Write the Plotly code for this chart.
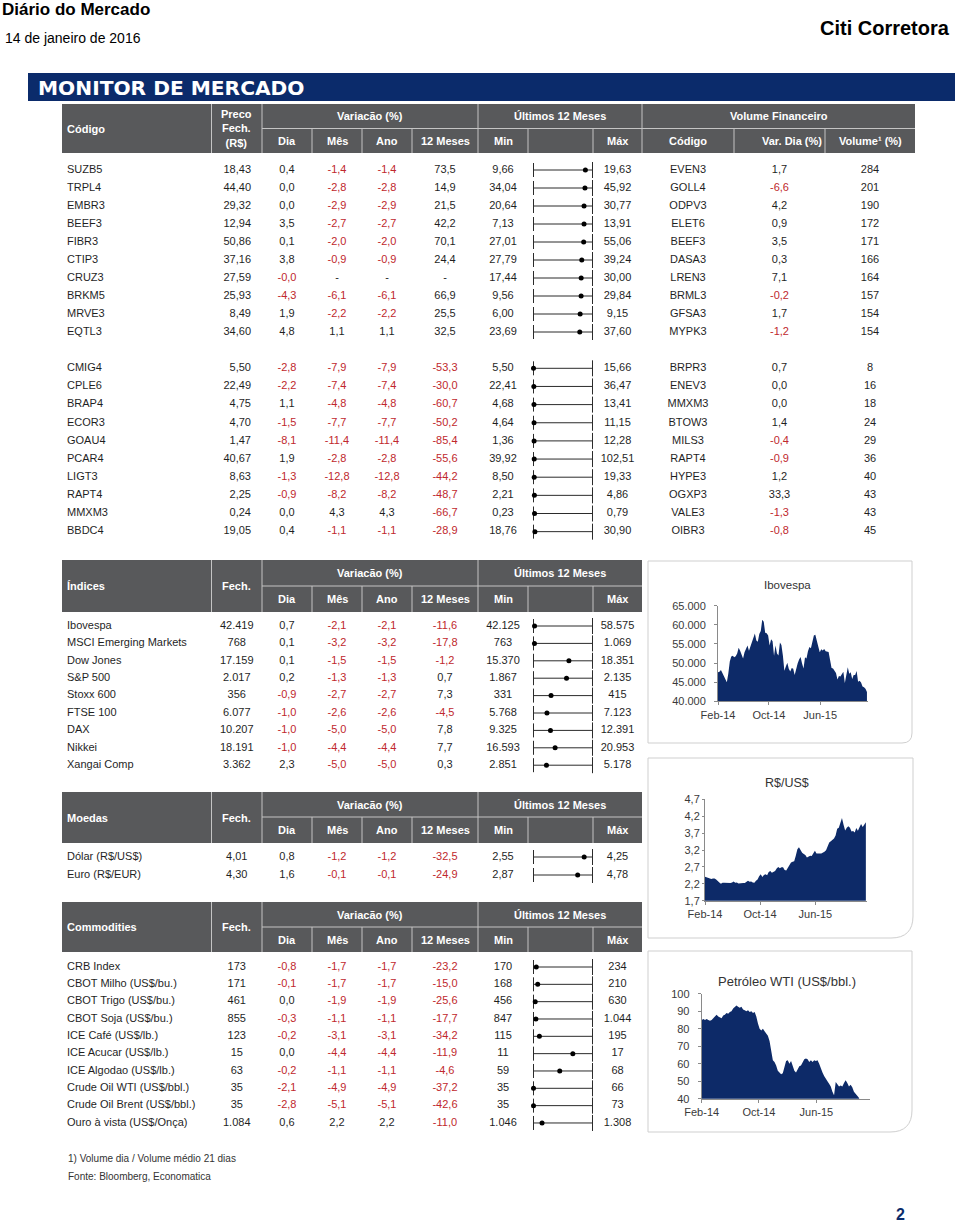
import math

import pandas as pd
import plotly.graph_objects as go

PAGE_W, PAGE_H = 960, 1222

NAVY = "#0b2b6b"
FILL = "#0d2a68"
HEADER_GRAY = "#58595b"
HEADER_RULE = "#c4c4c4"
INK = "#1f1f1f"
RED = "#c0282d"
RANGE_INK = "#2b2b2b"
BOX_LINE = "#cfcfcf"
AXIS_LINE = "#8a8a8a"
TICK_INK = "#3a3a3a"

SANS = "Liberation Sans, Arial, sans-serif"
NARROW = "Liberation Sans Narrow, Arial Narrow, Liberation Sans, Arial, sans-serif"

# ---- ações: maiores volumes relativos ----
TOPO_CODIGO = ["SUZB5", "TRPL4", "EMBR3", "BEEF3", "FIBR3", "CTIP3", "CRUZ3", "BRKM5", "MRVE3", "EQTL3"]
TOPO_PRECO = [18.43, 44.40, 29.32, 12.94, 50.86, 37.16, 27.59, 25.93, 8.49, 34.60]
TOPO_DIA = [0.4, 0.0, 0.0, 3.5, 0.1, 3.8, -0.0, -4.3, 1.9, 4.8]
TOPO_MES = [-1.4, -2.8, -2.9, -2.7, -2.0, -0.9, None, -6.1, -2.2, 1.1]
TOPO_ANO = [-1.4, -2.8, -2.9, -2.7, -2.0, -0.9, None, -6.1, -2.2, 1.1]
TOPO_12M = [73.5, 14.9, 21.5, 42.2, 70.1, 24.4, None, 66.9, 25.5, 32.5]
TOPO_MIN = [9.66, 34.04, 20.64, 7.13, 27.01, 27.79, 17.44, 9.56, 6.00, 23.69]
TOPO_MAX = [19.63, 45.92, 30.77, 13.91, 55.06, 39.24, 30.00, 29.84, 9.15, 37.60]
TOPO_VOL_CODIGO = ["EVEN3", "GOLL4", "ODPV3", "ELET6", "BEEF3", "DASA3", "LREN3", "BRML3", "GFSA3", "MYPK3"]
TOPO_VOL_VAR = [1.7, -6.6, 4.2, 0.9, 3.5, 0.3, 7.1, -0.2, 1.7, -1.2]
TOPO_VOL = [284, 201, 190, 172, 171, 166, 164, 157, 154, 154]

# ---- ações: menores volumes relativos ----
BASE_CODIGO = ["CMIG4", "CPLE6", "BRAP4", "ECOR3", "GOAU4", "PCAR4", "LIGT3", "RAPT4", "MMXM3", "BBDC4"]
BASE_PRECO = [5.50, 22.49, 4.75, 4.70, 1.47, 40.67, 8.63, 2.25, 0.24, 19.05]
BASE_DIA = [-2.8, -2.2, 1.1, -1.5, -8.1, 1.9, -1.3, -0.9, 0.0, 0.4]
BASE_MES = [-7.9, -7.4, -4.8, -7.7, -11.4, -2.8, -12.8, -8.2, 4.3, -1.1]
BASE_ANO = [-7.9, -7.4, -4.8, -7.7, -11.4, -2.8, -12.8, -8.2, 4.3, -1.1]
BASE_12M = [-53.3, -30.0, -60.7, -50.2, -85.4, -55.6, -44.2, -48.7, -66.7, -28.9]
BASE_MIN = [5.50, 22.41, 4.68, 4.64, 1.36, 39.92, 8.50, 2.21, 0.23, 18.76]
BASE_MAX = [15.66, 36.47, 13.41, 11.15, 12.28, 102.51, 19.33, 4.86, 0.79, 30.90]
BASE_VOL_CODIGO = ["BRPR3", "ENEV3", "MMXM3", "BTOW3", "MILS3", "RAPT4", "HYPE3", "OGXP3", "VALE3", "OIBR3"]
BASE_VOL_VAR = [0.7, 0.0, 0.0, 1.4, -0.4, -0.9, 1.2, 33.3, -1.3, -0.8]
BASE_VOL = [8, 16, 18, 24, 29, 36, 40, 43, 43, 45]

# ---- índices ----
IDX_NOME = ["Ibovespa", "MSCI Emerging Markets", "Dow Jones", "S&P 500", "Stoxx 600",
            "FTSE 100", "DAX", "Nikkei", "Xangai Comp"]
IDX_FECH = [42419, 768, 17159, 2017, 356, 6077, 10207, 18191, 3362]
IDX_DIA = [0.7, 0.1, 0.1, 0.2, -0.9, -1.0, -1.0, -1.0, 2.3]
IDX_MES = [-2.1, -3.2, -1.5, -1.3, -2.7, -2.6, -5.0, -4.4, -5.0]
IDX_ANO = [-2.1, -3.2, -1.5, -1.3, -2.7, -2.6, -5.0, -4.4, -5.0]
IDX_12M = [-11.6, -17.8, -1.2, 0.7, 7.3, -4.5, 7.8, 7.7, 0.3]
IDX_MIN = [42125, 763, 15370, 1867, 331, 5768, 9325, 16593, 2851]
IDX_MAX = [58575, 1069, 18351, 2135, 415, 7123, 12391, 20953, 5178]

# ---- moedas ----
MOEDA_NOME = ["Dólar (R$/US$)", "Euro (R$/EUR)"]
MOEDA_FECH = [4.01, 4.30]
MOEDA_DIA = [0.8, 1.6]
MOEDA_MES = [-1.2, -0.1]
MOEDA_ANO = [-1.2, -0.1]
MOEDA_12M = [-32.5, -24.9]
MOEDA_MIN = [2.55, 2.87]
MOEDA_MAX = [4.25, 4.78]

# ---- commodities ----
COMM_NOME = ["CRB Index", "CBOT Milho (US$/bu.)", "CBOT Trigo (US$/bu.)", "CBOT Soja (US$/bu.)",
             "ICE Café (US$/lb.)", "ICE Acucar (US$/lb.)", "ICE Algodao (US$/lb.)",
             "Crude Oil WTI (US$/bbl.)", "Crude Oil Brent (US$/bbl.)", "Ouro à vista (US$/Onça)"]
COMM_FECH = [173, 171, 461, 855, 123, 15, 63, 35, 35, 1084]
COMM_DIA = [-0.8, -0.1, 0.0, -0.3, -0.2, 0.0, -0.2, -2.1, -2.8, 0.6]
COMM_MES = [-1.7, -1.7, -1.9, -1.1, -3.1, -4.4, -1.1, -4.9, -5.1, 2.2]
COMM_ANO = [-1.7, -1.7, -1.9, -1.1, -3.1, -4.4, -1.1, -4.9, -5.1, 2.2]
COMM_12M = [-23.2, -15.0, -25.6, -17.7, -34.2, -11.9, -4.6, -37.2, -42.6, -11.0]
COMM_MIN = [170, 168, 456, 847, 115, 11, 59, 35, 35, 1046]
COMM_MAX = [234, 210, 630, 1044, 195, 17, 68, 66, 73, 1308]

# ---- séries semanais (a partir de fev/2014) ----
SEMANAS = pd.date_range("2014-02-01", periods=102, freq="7D")
FIM_SERIE = "2016-01-14"
IBOV = [
    47600, 47700, 48200, 47400, 46600, 46200, 45000, 47300, 50400, 51700,
    51900, 51500, 51800, 52500, 54000, 53200, 52300, 51200, 52800, 53900,
    54600, 53200, 54400, 55500, 57000, 57700, 55900, 55600, 57600, 58400,
    61300, 60800, 57900, 57800, 57200, 54600, 56200, 55700, 51900, 54600,
    52500, 52000, 55400, 54700, 52000, 48000, 49100, 50100, 48500, 47800,
    48700, 48500, 46900, 48800, 49900, 50900, 51600, 49900, 48600, 51500,
    51200, 53100, 54200, 53900, 55500, 57200, 57400, 56100, 54300, 52800,
    53600, 53300, 53700, 53100, 53000, 52900, 50800, 48700, 48600, 48100,
    47400, 45700, 46600, 46500, 47300, 47700, 44800, 47000, 48900, 47200,
    47600, 45800, 46900, 46900, 47900, 45100, 45400, 44900, 43900, 43700,
    43300, 42400,
]
DOLAR = [
    2.41, 2.39, 2.37, 2.35, 2.34, 2.36, 2.36, 2.33, 2.27, 2.24,
    2.20, 2.23, 2.23, 2.23, 2.21, 2.22, 2.22, 2.24, 2.27, 2.23,
    2.24, 2.21, 2.22, 2.21, 2.22, 2.22, 2.27, 2.29, 2.26, 2.27,
    2.24, 2.23, 2.29, 2.33, 2.42, 2.48, 2.40, 2.46, 2.48, 2.45,
    2.55, 2.58, 2.53, 2.56, 2.58, 2.65, 2.70, 2.66, 2.69, 2.69,
    2.61, 2.59, 2.68, 2.77, 2.83, 2.85, 2.87, 3.03, 3.22, 3.28,
    3.18, 3.12, 3.08, 3.05, 2.98, 3.01, 3.03, 3.02, 3.12, 3.18,
    3.10, 3.11, 3.10, 3.10, 3.12, 3.15, 3.19, 3.32, 3.42, 3.46,
    3.49, 3.54, 3.63, 3.83, 3.86, 3.99, 4.15, 3.95, 3.78, 3.86,
    3.90, 3.86, 3.75, 3.76, 3.72, 3.85, 3.77, 3.87, 3.97, 3.88,
    3.96, 4.02,
]
WTI = [
    85, 85.5, 85, 85.5, 85, 84.5, 85, 86, 87, 88,
    87, 86.5, 86, 87.5, 88, 89, 88.5, 89.5, 90, 91.5,
    92.5, 93.3, 92.5, 92, 92.5, 91, 90.5, 90, 90.5, 89.5,
    90, 89, 89.5, 87, 83, 80, 79, 80, 78.5, 77,
    76, 73, 68, 62, 61, 59, 56, 55, 54, 54.5,
    58, 61.5, 62, 60, 61.5, 58, 56, 55, 57, 58.5,
    59, 61, 62.5, 63, 62.5, 61, 62, 61, 62, 61.5,
    62, 60, 57, 55, 53, 51, 50, 48.5, 47, 44,
    42, 49.5, 48, 47, 47.5, 47, 49, 50.5, 49, 47,
    48, 46.5, 44, 43, 42, 40.5, 38, 37, 36.5, 37,
    36, 33.5,
]
X_TICKS = ["2014-02-01", "2014-10-01", "2015-06-01"]
X_LABELS = ["Feb-14", "Oct-14", "Jun-15"]
IBOV_TICKS = [40000, 45000, 50000, 55000, 60000, 65000]
DOLAR_TICKS = [1.7, 2.2, 2.7, 3.2, 3.7, 4.2, 4.7]
WTI_TICKS = [40, 50, 60, 70, 80, 90, 100]

# ---- column edges of the tables (page pixels) ----
EDGE_NAME = 62
EDGE_CLOSE = 211.5
EDGE_DIA = 262
EDGE_MES = 312
EDGE_ANO = 362
EDGE_M12 = 412
EDGE_MIN = 478
EDGE_RANGE = 528
EDGE_MAX = 593
EDGE_VCOD = 642
EDGE_VVAR = 734
EDGE_VOL = 825
EDGE_END = 915
RANGE_X0, RANGE_X1 = 533.5, 592.5


def _fmt(value, decimals):
    if value is None:
        return "-"
    text = f"{value:,.{decimals}f}"
    return text.replace(",", " ").replace(".", ",").replace(" ", ".")


def _tone(value):
    if value is None:
        return INK
    return RED if math.copysign(1.0, value) < 0 else INK


def _mid(a, b):
    return (a + b) / 2


def _label(fig, x, y, text, *, anchor="center", size=11, color="white", family=NARROW, bold=True):
    fig.add_annotation(
        x=x, y=y, xref="x", yref="y", text=f"<b>{text}</b>" if bold else text,
        showarrow=False, xanchor=anchor, yanchor="middle", borderpad=0,
        font={"family": family, "size": size, "color": color},
    )


def _column(fig, x, ys, texts, colors=INK, position="middle center"):
    fig.add_trace(
        go.Scatter(
            x=[x] * len(ys), y=ys, mode="text", text=texts, textposition=position,
            textfont={"family": SANS, "size": 11, "color": colors},
            hoverinfo="skip", showlegend=False, cliponaxis=False,
        )
    )


def _numbers(fig, x, ys, values, decimals=1):
    _column(fig, x, ys, [_fmt(v, decimals) for v in values], [_tone(v) for v in values])


def _header(fig, top, split, bottom, title, close_label, right, volume=False):
    fig.add_shape(type="rect", xref="x", yref="y", x0=EDGE_NAME, x1=right, y0=top, y1=bottom,
                  fillcolor=HEADER_GRAY, line={"width": 0}, layer="below")
    rule = {"color": HEADER_RULE, "width": 1}
    fig.add_shape(type="line", xref="x", yref="y", x0=EDGE_DIA, x1=right, y0=split, y1=split,
                  line=rule, layer="below")
    full = [EDGE_CLOSE, EDGE_DIA, EDGE_MIN] + ([EDGE_VCOD] if volume else [])
    part = [EDGE_MES, EDGE_ANO, EDGE_M12, EDGE_RANGE, EDGE_MAX] + ([EDGE_VVAR, EDGE_VOL] if volume else [])
    for x in full:
        fig.add_shape(type="line", xref="x", yref="y", x0=x, x1=x, y0=top, y1=bottom, line=rule, layer="below")
    for x in part:
        fig.add_shape(type="line", xref="x", yref="y", x0=x, x1=x, y0=split, y1=bottom, line=rule, layer="below")

    centre, upper, lower = _mid(top, bottom), _mid(top, split), _mid(split, bottom)
    _label(fig, EDGE_NAME + 4, centre, title, anchor="left")
    _label(fig, _mid(EDGE_CLOSE, EDGE_DIA), centre, close_label)
    _label(fig, _mid(EDGE_DIA, EDGE_MIN), upper, "Variacão (%)")
    _label(fig, _mid(EDGE_MIN, EDGE_VCOD), upper, "Últimos 12 Meses")
    for text, left, rt in (("Dia", EDGE_DIA, EDGE_MES), ("Mês", EDGE_MES, EDGE_ANO),
                           ("Ano", EDGE_ANO, EDGE_M12), ("12 Meses", EDGE_M12, EDGE_MIN),
                           ("Min", EDGE_MIN, EDGE_RANGE), ("Máx", EDGE_MAX, EDGE_VCOD)):
        _label(fig, _mid(left, rt), lower, text)
    if volume:
        _label(fig, _mid(EDGE_VCOD, EDGE_END), upper, "Volume Financeiro")
        _label(fig, _mid(EDGE_VCOD, EDGE_VVAR), lower, "Código")
        _label(fig, EDGE_VOL - 2, lower, "Var. Dia (%)", anchor="right")
        _label(fig, _mid(EDGE_VOL, EDGE_END), lower, "Volume¹ (%)")


def _ranges(fig, ys, close, lows, highs):
    xs, yy = [], []
    for y in ys:
        xs.extend((RANGE_X0, RANGE_X1, None, RANGE_X0, RANGE_X0, None, RANGE_X1, RANGE_X1, None))
        yy.extend((y, y, None, y - 7, y + 7, None, y - 8, y + 8, None))
    fig.add_trace(go.Scatter(x=xs, y=yy, mode="lines", line={"color": RANGE_INK, "width": 1},
                             hoverinfo="skip", showlegend=False))
    pos = [RANGE_X0 + (c - lo) / (hi - lo) * (RANGE_X1 - RANGE_X0) for c, lo, hi in zip(close, lows, highs)]
    fig.add_trace(go.Scatter(x=pos, y=ys, mode="markers", marker={"color": "black", "size": 5},
                             hoverinfo="skip", showlegend=False))


def _body(fig, ys, names, close, close_dec, dia, mes, ano, m12, lows, highs, range_dec, close_right=False):
    _column(fig, EDGE_NAME + 5, ys, names, position="middle right")
    texts = [_fmt(v, close_dec) for v in close]
    if close_right:
        _column(fig, EDGE_DIA - 11, ys, texts, position="middle left")
    else:
        _column(fig, _mid(EDGE_CLOSE, EDGE_DIA), ys, texts)
    _numbers(fig, _mid(EDGE_DIA, EDGE_MES), ys, dia)
    _numbers(fig, _mid(EDGE_MES, EDGE_ANO), ys, mes)
    _numbers(fig, _mid(EDGE_ANO, EDGE_M12), ys, ano)
    _numbers(fig, _mid(EDGE_M12, EDGE_MIN), ys, m12)
    _column(fig, _mid(EDGE_MIN, EDGE_RANGE), ys, [_fmt(v, range_dec) for v in lows])
    _column(fig, _mid(EDGE_MAX, EDGE_VCOD), ys, [_fmt(v, range_dec) for v in highs])
    _ranges(fig, ys, close, lows, highs)


def _volume(fig, ys, codes, var, vol):
    _column(fig, _mid(EDGE_VCOD, EDGE_VVAR), ys, codes)
    _numbers(fig, _mid(EDGE_VVAR, EDGE_VOL), ys, var)
    _column(fig, _mid(EDGE_VOL, EDGE_END), ys, [str(v) for v in vol])


def _box(fig, x0, y0, x1, y1, r):
    path = f"M {x0},{y0} L {x1},{y0} L {x1},{y1 - r} Q {x1},{y1} {x1 - r},{y1} L {x0},{y1} Z"
    fig.add_shape(type="path", path=path, xref="x", yref="y", line={"color": BOX_LINE, "width": 1},
                  fillcolor="white", layer="below")


def _chart(fig, idx, plot, values, y_range, y_ticks, y_labels, standoff, ticklen=3):
    x0, y0, x1, y1 = plot
    fig.add_trace(
        go.Scatter(
            x=SEMANAS, y=values, mode="lines", line={"width": 0, "color": FILL},
            fill="tozeroy", fillcolor=FILL, xaxis=f"x{idx}", yaxis=f"y{idx}",
            hoverinfo="skip", showlegend=False,
        )
    )
    axis = {
        "showline": True, "linecolor": AXIS_LINE, "linewidth": 1, "ticks": "outside",
        "ticklen": 3, "tickcolor": AXIS_LINE, "showgrid": False, "zeroline": False,
        "tickfont": {"family": SANS, "size": 11, "color": TICK_INK}, "fixedrange": True,
        "automargin": False,
    }
    fig.update_layout(**{
        f"xaxis{idx}": dict(axis, domain=[x0 / PAGE_W, x1 / PAGE_W], anchor=f"y{idx}", type="date",
                            range=[SEMANAS[0], FIM_SERIE], tickvals=X_TICKS, ticktext=X_LABELS),
        f"yaxis{idx}": dict(axis, domain=[1 - y1 / PAGE_H, 1 - y0 / PAGE_H], anchor=f"x{idx}",
                            range=y_range, tickvals=y_ticks, ticktext=y_labels,
                            ticklabelstandoff=standoff, ticklen=ticklen),
    })


def _rows(first, step, count):
    return [first + i * step for i in range(count)]


fig = go.Figure()

# page header
_label(fig, 1, 9, "Diário do Mercado", anchor="left", size=17, color="black", family=SANS)
_label(fig, 4, 38, "14 de janeiro de 2016", anchor="left", size=14, color="black", family=SANS, bold=False)
_label(fig, 951, 28, "Citi Corretora", anchor="right", size=20, color="black", family=SANS)
fig.add_shape(type="rect", xref="x", yref="y", x0=28, x1=955, y0=73, y1=101,
              fillcolor=NAVY, line={"width": 0}, layer="below")
_label(fig, 37, 88, "MONITOR DE MERCADO", anchor="left", size=20.2,
       family="DejaVu Sans, Verdana, sans-serif")

# ações
_header(fig, 104, 128.5, 153, "Código", "Preco<br>Fech.<br>(R$)", EDGE_END, volume=True)
rows_topo = _rows(170, 18.0, len(TOPO_CODIGO))
_body(fig, rows_topo, TOPO_CODIGO, TOPO_PRECO, 2, TOPO_DIA, TOPO_MES, TOPO_ANO, TOPO_12M,
      TOPO_MIN, TOPO_MAX, 2, close_right=True)
_volume(fig, rows_topo, TOPO_VOL_CODIGO, TOPO_VOL_VAR, TOPO_VOL)
rows_base = _rows(368.3, 18.15, len(BASE_CODIGO))
_body(fig, rows_base, BASE_CODIGO, BASE_PRECO, 2, BASE_DIA, BASE_MES, BASE_ANO, BASE_12M,
      BASE_MIN, BASE_MAX, 2, close_right=True)
_volume(fig, rows_base, BASE_VOL_CODIGO, BASE_VOL_VAR, BASE_VOL)

# índices
_header(fig, 560, 586, 612, "Índices", "Fech.", EDGE_VCOD)
_body(fig, _rows(626, 17.4, len(IDX_NOME)), IDX_NOME, IDX_FECH, 0, IDX_DIA, IDX_MES, IDX_ANO,
      IDX_12M, IDX_MIN, IDX_MAX, 0)

# moedas
_header(fig, 792, 817, 843, "Moedas", "Fech.", EDGE_VCOD)
_body(fig, _rows(857, 18.0, len(MOEDA_NOME)), MOEDA_NOME, MOEDA_FECH, 2, MOEDA_DIA, MOEDA_MES,
      MOEDA_ANO, MOEDA_12M, MOEDA_MIN, MOEDA_MAX, 2)

# commodities
_header(fig, 902, 927, 952, "Commodities", "Fech.", EDGE_VCOD)
_body(fig, _rows(967, 17.33, len(COMM_NOME)), COMM_NOME, COMM_FECH, 0, COMM_DIA, COMM_MES,
      COMM_ANO, COMM_12M, COMM_MIN, COMM_MAX, 0)

# gráficos
_box(fig, 648, 561, 912, 743, 10)
_box(fig, 648, 758, 913, 938, 22)
_box(fig, 648, 951, 912, 1132, 22)
_label(fig, 787, 585, "Ibovespa", size=11.5, color="#333333", family=SANS, bold=False)
_label(fig, 787, 783, "R$/US$", size=12.5, color="#333333", family=SANS, bold=False)
_label(fig, 787, 981, "Petróleo WTI (US$/bbl.)", size=13, color="#333333", family=SANS, bold=False)
_chart(fig, 2, (718, 605.7, 868, 701.3), IBOV, [40000, 65000], IBOV_TICKS,
       [_fmt(v, 0) for v in IBOV_TICKS], 6)
_chart(fig, 3, (705, 799.3, 867, 900.7), DOLAR, [1.7, 4.7], DOLAR_TICKS,
       [_fmt(v, 1) for v in DOLAR_TICKS], 0, ticklen=2)
_chart(fig, 4, (701.7, 993.7, 870, 1098.7), WTI, [40, 100], WTI_TICKS,
       [str(v) for v in WTI_TICKS], 6)

# rodapé
_label(fig, 67, 1158, "1) Volume dia / Volume médio 21 dias", anchor="left", size=10,
       color="#333333", family=SANS, bold=False)
_label(fig, 67, 1176, "Fonte: Bloomberg, Economatica", anchor="left", size=10,
       color="#333333", family=SANS, bold=False)
_label(fig, 900, 1214, "2", size=16, color=NAVY, family=SANS)

fig.update_layout(
    width=PAGE_W,
    height=PAGE_H,
    autosize=False,
    margin={"l": 0, "r": 0, "t": 0, "b": 0, "pad": 0, "autoexpand": False},
    paper_bgcolor="white",
    plot_bgcolor="rgba(0,0,0,0)",
    showlegend=False,
    xaxis={"range": [0, PAGE_W], "domain": [0, 1], "visible": False, "fixedrange": True,
           "automargin": False},
    yaxis={"range": [PAGE_H, 0], "domain": [0, 1], "visible": False, "fixedrange": True,
           "automargin": False},
)

fig.write_html(
    "out.html",
    config={"displayModeBar": False},
    post_script="document.body.style.margin = '0'; document.body.style.overflow = 'hidden';",
)
